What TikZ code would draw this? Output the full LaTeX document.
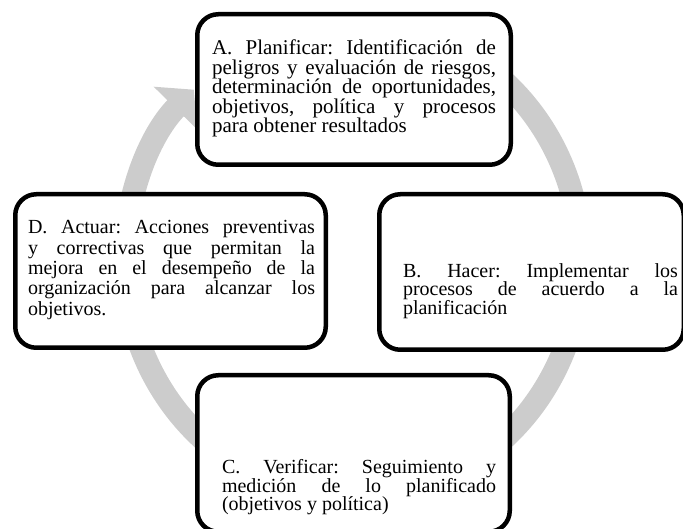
\documentclass[tikz,border=0pt]{standalone}
\usepackage{fontspec}
\setmainfont{Liberation Serif}
\usetikzlibrary{arrows.meta}
\tolerance=10000
\frenchspacing

\tikzset{
  caja/.style={draw=black, line width=4.5pt, rounded corners=21pt, fill=white, inner sep=0pt},
  texto/.style={text width=#1, align=justify, inner sep=0pt, font=\fontsize{20pt}{19.5pt}\selectfont},
  ciclo/.style={draw=black!20, line width=23pt, -{Triangle[width=60pt,length=26pt]}}
}

\begin{document}
\begin{tikzpicture}[x=1pt,y=1pt]
    \useasboundingbox (0,0) rectangle (683,529);
    \coordinate (centro) at (353,269);

    % flecha circular gris, queda por debajo de las cajas
    \draw[ciclo] (centro) ++(62:228 and 238) arc[start angle=62, end angle=-225.7, x radius=228, y radius=238];

    \node[caja, minimum width=313.5pt, minimum height=150.5pt] (cajaA) at (354,439.5) {};
    \node[caja, minimum width=304.5pt, minimum height=155.5pt] (cajaB) at (531.5,257) {};
    \node[caja, minimum width=312.5pt, minimum height=156.5pt] (cajaC) at (353.5,75.5) {};
    \node[caja, minimum width=310.5pt, minimum height=153.5pt] (cajaD) at (170.5,258) {};

    \node[texto=284pt, font=\fontsize{21pt}{19.6pt}\selectfont] (textoA) at (354,440.5) {A. Planificar: Identificación de\linebreak peligros y evaluación de riesgos,\linebreak determinación de oportunidades,\linebreak objetivos, política y procesos\linebreak para obtener resultados};
    \node[texto=275pt, font=\fontsize{20pt}{18.4pt}\selectfont] (textoB) at (540.5,238) {B. Hacer: Implementar los\linebreak procesos de acuerdo a la\linebreak planificación};
    \node[texto=274pt, font=\fontsize{20pt}{18.4pt}\selectfont] (textoC) at (359,41.5) {C. Verificar: Seguimiento y\linebreak medición de lo planificado\linebreak (objetivos y política)};
    \node[texto=287pt, font=\fontsize{20pt}{20.4pt}\selectfont] (textoD) at (171.5,259) {D. Actuar: Acciones preventivas\linebreak y correctivas que permitan la\linebreak mejora en el desempeño de la\linebreak organización para alcanzar los\linebreak objetivos.};

\end{tikzpicture}
\end{document}
